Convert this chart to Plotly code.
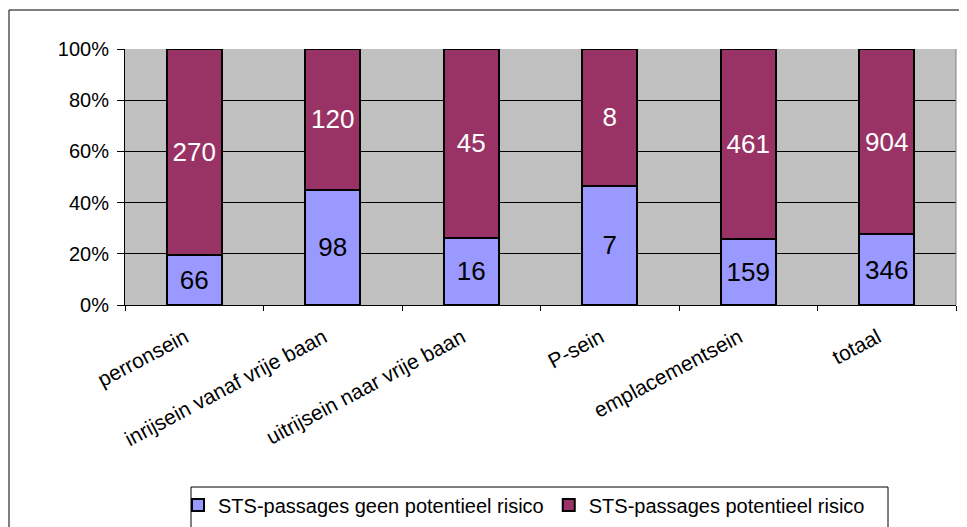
import plotly.graph_objects as go

categories = ["perronsein", "inrijsein vanaf vrije baan", "uitrijsein naar vrije baan",
              "P-sein", "emplacementsein", "totaal"]
geen_risico = [66, 98, 16, 7, 159, 346]
wel_risico = [270, 120, 45, 8, 461, 904]
series_names = ["STS-passages geen potentieel risico", "STS-passages potentieel risico"]
y_ticks = [0, 20, 40, 60, 80, 100]
y_ticktext = ["0%", "20%", "40%", "60%", "80%", "100%"]

FONT = "Liberation Sans, Arial, sans-serif"
OFF = 8      # default page body margin
W, H = 967 - 2 * OFF, 545
L = 125 - OFF
R = W - (956 - OFF)
T = 49 - OFF
B = H - (305 - OFF)
PW, PH = W - L - R, H - T - B


def px_x(x):
    return (x - OFF - L) / PW


def px_y(y):
    return (H - B - (y - OFF)) / PH


fig = go.Figure()
fig.add_trace(go.Bar(
    x=categories, y=geen_risico, name=series_names[0],
    marker=dict(color="#9999FF", line=dict(color="black", width=2)),
    text=[str(v) for v in geen_risico], textposition="inside",
    insidetextanchor="middle", textangle=0,
    textfont=dict(color="black", size=26, family=FONT),
))
fig.add_trace(go.Bar(
    x=categories, y=wel_risico, name=series_names[1],
    marker=dict(color="#993366", line=dict(color="black", width=2)),
    text=[str(v) for v in wel_risico], textposition="inside",
    insidetextanchor="middle", textangle=0,
    textfont=dict(color="white", size=26, family=FONT),
))

fig.update_layout(
    width=W, height=H,
    margin=dict(l=L, r=R, t=T, b=B, pad=0),
    barmode="stack", barnorm="percent", bargap=0.6,
    plot_bgcolor="#C0C0C0", paper_bgcolor="white",
    font=dict(family=FONT, size=20, color="black"),
    showlegend=True,
    legend=dict(
        orientation="h", x=px_x(178), y=px_y(505), xanchor="left", yanchor="middle",
        font=dict(size=20, family=FONT, color="black"),
        bgcolor="rgba(0,0,0,0)", borderwidth=0, traceorder="normal",
    ),
    xaxis=dict(
        type="category", tickangle=-28, tickson="boundaries",
        ticks="outside", ticklen=5, tickcolor="black",
        ticklabelstandoff=11, ticklabelshift=-9,
        showline=True, linecolor="black", linewidth=1,
        showgrid=False, tickfont=dict(size=21, family=FONT),
    ),
    yaxis=dict(
        range=[0, 100], tickvals=y_ticks, ticktext=y_ticktext,
        ticks="outside", ticklen=7, tickcolor="black", ticklabelstandoff=4,
        showline=True, linecolor="black", linewidth=1,
        showgrid=True, gridcolor="black", gridwidth=1, zeroline=False,
        tickfont=dict(size=20, family=FONT),
    ),
    shapes=[
        dict(type="rect", xref="paper", yref="paper",
             x0=px_x(9), x1=px_x(1000), y0=px_y(620), y1=px_y(10),
             line=dict(color="black", width=1), fillcolor="rgba(0,0,0,0)", layer="below"),
        dict(type="rect", xref="paper", yref="paper",
             x0=px_x(191), x1=px_x(888), y0=px_y(620), y1=px_y(487),
             line=dict(color="black", width=1), fillcolor="rgba(0,0,0,0)"),
        dict(type="line", xref="paper", yref="paper",
             x0=1, x1=1, y0=0, y1=1, line=dict(color="#808080", width=1)),
    ],
)

fig.write_html("out.html")
